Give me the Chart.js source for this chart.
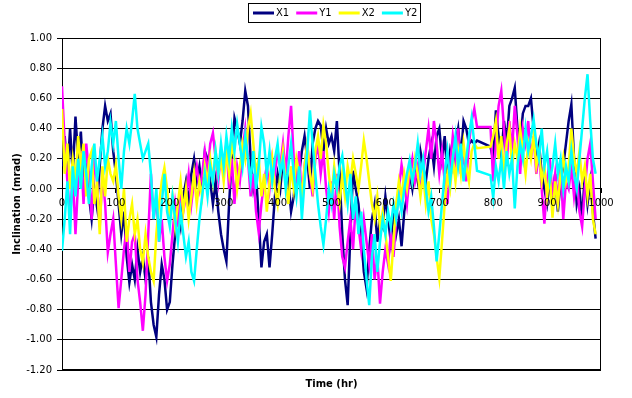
<!DOCTYPE html>
<html>
<head>
<meta charset="utf-8">
<script src="https://cdn.jsdelivr.net/npm/chart.js@4.4.1/dist/chart.umd.min.js"></script>
<style>
html,body{margin:0;padding:0;background:#fff;}
#wrap{width:632px;height:398px;}
</style>
</head>
<body>
<div id="wrap"><canvas id="c" width="632" height="398"></canvas></div>
<script>
// Time in hours
const hours = [
  0,5,10,15,20,25,30,35,40,45,50,55,60,65,70,75,80,85,90,95,
  100,105,110,115,120,125,130,135,140,145,150,155,160,165,170,175,180,185,190,195,
  200,205,210,215,220,225,230,235,240,245,250,255,260,265,270,275,280,285,290,295,
  300,305,310,315,320,325,330,335,340,345,350,355,360,365,370,375,380,385,390,395,
  400,405,410,415,420,425,430,435,440,445,450,455,460,465,470,475,480,485,490,495,
  500,505,510,515,520,525,530,535,540,545,550,555,560,565,570,575,580,585,590,595,
  600,605,610,615,620,625,630,635,640,645,650,655,660,665,670,675,680,685,690,695,
  700,705,710,715,720,725,730,735,740,745,750,755,760,765,770,775,780,785,790,795,
  800,805,810,815,820,825,830,835,840,845,850,855,860,865,870,875,880,885,890,895,
  900,905,910,915,920,925,930,935,940,945,950,955,960,965,970,975,980,985,990
];
const seriesNames = ['X1','Y1','X2','Y2'];

const X1 = [
  0.15,0.35,0.10,0.40,0.10,0.48,0.20,0.38,0.05,0.20,-0.05,-0.20,0.00,-0.12,0.15,0.40,0.55,0.45,0.50,0.25,
  0.10,-0.10,-0.30,-0.15,-0.45,-0.62,-0.50,-0.60,-0.40,-0.55,-0.45,-0.60,-0.45,-0.75,-0.90,-0.98,-0.70,-0.50,-0.60,-0.80,
  -0.75,-0.50,-0.30,-0.15,-0.25,-0.05,0.05,-0.10,0.10,0.20,0.05,0.15,0.00,0.25,0.20,0.05,-0.10,0.05,-0.15,-0.30,
  -0.40,-0.48,-0.10,0.20,0.47,0.40,0.30,0.45,0.65,0.55,0.20,0.00,0.10,-0.20,-0.52,-0.35,-0.30,-0.52,-0.30,-0.05,
  0.10,0.00,0.20,0.15,0.05,-0.15,-0.05,0.15,0.10,0.25,0.35,0.20,0.00,0.30,0.40,0.45,0.42,0.25,0.40,0.30,
  0.35,0.25,0.45,0.10,-0.30,-0.60,-0.77,-0.30,0.12,0.00,-0.10,-0.30,-0.55,-0.66,-0.40,-0.20,-0.10,-0.35,-0.20,-0.25,
  -0.05,-0.20,-0.35,-0.15,-0.30,-0.20,-0.38,-0.15,-0.05,0.10,0.00,0.15,0.05,0.25,0.15,0.05,0.20,0.30,0.15,0.35,
  0.40,0.20,0.35,0.10,0.25,0.15,0.30,0.40,0.20,0.45,0.40,0.30,0.32,0.30,0.32,null,null,null,null,0.28,
  0.19,0.52,0.35,0.20,0.45,0.30,0.55,0.60,0.67,0.40,0.30,0.50,0.55,0.55,0.60,0.40,0.20,0.30,0.10,0.00,
  -0.10,0.05,-0.05,0.10,-0.15,0.05,0.15,0.30,0.45,0.56,0.20,-0.10,0.00,-0.20,0.10,-0.10,0.05,-0.15,-0.33
];
const Y1 = [
  0.68,0.30,0.05,-0.20,0.10,-0.30,0.05,0.25,-0.10,0.30,0.10,-0.20,0.20,0.05,-0.25,0.10,-0.10,-0.42,-0.30,-0.20,
  -0.50,-0.79,-0.60,-0.40,-0.25,-0.55,-0.35,-0.30,-0.60,-0.75,-0.94,-0.70,-0.30,0.10,-0.20,-0.05,-0.35,-0.20,-0.45,-0.61,
  -0.50,-0.30,-0.10,-0.25,0.00,-0.15,-0.05,0.10,-0.10,0.05,0.15,0.00,0.10,0.25,0.10,0.30,0.37,0.20,0.05,0.25,
  0.15,0.30,0.00,0.20,-0.10,0.15,0.05,0.25,0.40,0.20,-0.05,0.10,-0.15,-0.29,-0.10,0.05,0.15,0.00,0.20,0.10,
  0.25,0.15,0.30,0.10,0.35,0.55,0.20,0.05,0.25,-0.10,0.15,0.30,0.10,-0.05,0.20,0.30,0.10,0.25,0.00,-0.15,
  0.05,-0.20,0.10,-0.25,-0.45,-0.52,-0.35,-0.20,-0.40,-0.10,-0.25,-0.40,-0.20,-0.35,-0.50,-0.30,-0.60,-0.45,-0.76,-0.55,
  -0.40,-0.50,-0.30,-0.45,-0.20,0.00,0.16,0.05,-0.10,0.10,0.20,0.05,0.15,0.00,0.10,0.25,0.40,0.20,0.45,0.30,
  0.10,0.25,0.05,-0.10,0.15,0.35,0.20,0.40,0.10,0.25,0.05,0.30,0.45,0.53,0.41,null,null,null,null,0.41,
  0.05,0.30,0.55,0.65,0.40,0.15,0.45,0.25,0.55,0.35,0.10,0.40,0.30,0.45,0.20,0.35,0.10,0.25,0.00,-0.23,
  0.05,0.20,-0.05,0.10,-0.10,0.15,-0.20,0.05,0.00,0.15,-0.05,0.10,-0.15,-0.25,0.00,0.20,0.30,0.05,-0.20
];
const X2 = [
  0.53,0.10,0.30,0.00,0.20,0.05,0.35,0.15,0.30,-0.05,0.20,0.25,-0.10,0.05,-0.30,0.15,-0.05,0.20,0.10,0.05,
  0.16,-0.05,-0.20,0.00,-0.35,-0.20,-0.10,-0.30,-0.20,-0.40,-0.49,-0.30,-0.45,-0.55,-0.61,-0.30,-0.10,0.05,0.14,0.00,
  -0.20,-0.05,-0.25,-0.10,0.05,-0.15,0.00,-0.20,-0.05,0.10,-0.10,0.05,-0.05,0.15,0.05,0.20,0.05,0.25,0.10,0.20,
  0.05,0.25,0.10,0.30,0.20,0.00,0.15,0.30,0.20,0.40,0.50,0.30,0.10,0.20,-0.05,0.10,-0.15,0.05,0.20,0.00,
  -0.10,0.10,0.25,0.05,-0.10,0.15,0.00,0.20,0.10,-0.05,0.15,0.30,0.10,0.00,0.25,0.35,0.20,0.42,0.30,0.10,
  -0.05,0.15,0.00,-0.10,0.10,-0.05,0.15,0.05,0.20,0.10,0.00,0.15,0.32,0.20,0.05,-0.10,-0.20,-0.05,-0.25,-0.15,
  -0.30,-0.45,-0.61,-0.35,-0.10,0.05,-0.05,0.10,0.00,0.15,0.05,0.20,0.10,-0.05,0.10,-0.10,0.05,-0.20,-0.30,-0.45,
  -0.59,-0.35,-0.10,0.10,0.00,0.20,0.05,0.25,0.10,0.30,0.15,0.05,0.25,0.30,0.27,null,null,null,null,0.28,
  0.35,0.45,0.20,0.35,0.10,0.30,0.40,0.15,0.30,0.20,0.40,0.25,0.10,0.30,0.20,0.35,0.15,0.25,0.05,0.15,
  -0.05,0.10,-0.19,0.05,-0.10,0.10,0.21,0.05,0.15,0.40,0.20,0.10,0.25,0.05,0.15,-0.05,0.10,-0.20,-0.30
];
const Y2 = [
  -0.41,-0.20,0.05,-0.30,0.15,-0.05,0.20,0.00,0.25,0.10,-0.10,0.15,0.30,0.05,0.20,0.35,0.15,0.25,0.44,0.30,
  0.45,0.20,0.00,0.25,0.40,0.30,0.45,0.63,0.40,0.30,0.20,0.25,0.30,0.10,-0.20,0.00,-0.35,-0.10,0.10,-0.15,
  -0.25,-0.05,-0.20,-0.35,-0.15,-0.30,-0.45,-0.35,-0.55,-0.61,-0.40,-0.20,-0.05,0.10,-0.05,0.15,0.05,0.25,0.10,0.30,
  0.15,0.35,0.20,0.40,0.25,0.43,0.30,0.15,0.35,0.20,0.05,0.25,0.00,0.15,0.41,0.30,0.10,0.25,0.05,0.20,
  0.30,0.10,0.20,0.00,0.15,0.30,0.10,-0.05,0.15,-0.20,0.05,0.25,0.52,0.30,0.10,-0.10,-0.25,-0.37,-0.20,0.00,
  -0.10,0.10,0.00,0.15,0.22,0.05,-0.10,0.10,-0.20,-0.05,-0.30,-0.15,-0.40,-0.60,-0.77,-0.45,-0.30,-0.55,-0.35,-0.20,
  -0.30,-0.15,-0.25,-0.10,-0.20,-0.05,-0.15,0.00,0.10,0.19,0.05,0.15,0.30,0.10,0.20,0.00,-0.15,-0.05,-0.25,-0.48,
  -0.30,-0.10,0.10,0.25,0.05,0.20,0.35,0.15,0.30,0.05,0.20,0.35,0.47,0.30,0.12,null,null,null,null,0.09,
  -0.06,0.15,0.05,0.20,0.00,0.25,0.10,0.20,-0.13,0.15,0.30,0.20,0.40,0.25,0.35,0.46,0.30,0.20,0.40,0.15,
  0.25,0.05,0.15,0.30,0.10,0.20,0.00,0.15,0.05,0.25,0.10,0.00,0.20,0.40,0.60,0.76,0.45,0.20,0.10
];
const yTicks = ['-1.20','-1.00','-0.80','-0.60','-0.40','-0.20','0.00','0.20','0.40','0.60','0.80','1.00'];
const xTicks = ['0','100','200','300','400','500','600','700','800','900','1000'];

const colors = ['#000080','#FF00FF','#FFFF00','#00FFFF'];
const values = [X1, Y1, X2, Y2];

const datasets = seriesNames.map((name, k) => ({
  label: name,
  data: hours.map((h, i) => ({x: h, y: values[k][i]})),
  borderColor: colors[k],
  backgroundColor: colors[k],
  borderWidth: 2.5,
  pointRadius: 0,
  tension: 0,
  spanGaps: true,
  order: 4 - k
}));

const framePlugin = {
  id: 'frame',
  beforeDatasetsDraw(chart) {
    const a = chart.chartArea, ctx = chart.ctx;
    ctx.save();
    ctx.strokeStyle = '#000';
    ctx.lineWidth = 1;
    ctx.strokeRect(Math.round(a.left) + 0.5, Math.round(a.top) + 0.5, Math.round(a.right - a.left) - 1, Math.round(a.bottom - a.top) - 1);
    ctx.restore();
  }
};

const legendPlugin = {
  id: 'boxLegend',
  afterDraw(chart) {
    const ctx = chart.ctx;
    ctx.save();
    ctx.font = '10px "DejaVu Sans", Verdana, sans-serif';
    ctx.textBaseline = 'middle';
    ctx.strokeStyle = '#000';
    ctx.lineWidth = 1;
    ctx.strokeRect(248.5, 3.5, 172, 19);
    let x = 253;
    const y = 13;
    chart.data.datasets.forEach(ds => {
      ctx.strokeStyle = ds.borderColor;
      ctx.lineWidth = 3;
      ctx.beginPath();
      ctx.moveTo(x, y);
      ctx.lineTo(x + 21, y);
      ctx.stroke();
      ctx.fillStyle = '#000';
      ctx.textAlign = 'left';
      ctx.fillText(ds.label, x + 23, y + 0.5);
      x += 23 + ctx.measureText(ds.label).width + 7;
    });
    ctx.restore();
  }
};

new Chart(document.getElementById('c'), {
  type: 'line',
  data: { datasets },
  options: {
    responsive: false,
    animation: false,
    devicePixelRatio: 1,
    layout: { padding: { top: 38, right: 31, left: 0, bottom: 0 } },
    plugins: { legend: { display: false }, tooltip: { enabled: false } },
    font: { family: '"DejaVu Sans", Verdana, sans-serif' },
    scales: {
      x: {
        type: 'linear',
        min: 0, max: 1000,
        position: { y: 0 },
        grid: { drawOnChartArea: false, drawTicks: true, tickLength: 4, color: '#000' },
        border: { display: true, color: '#000', width: 1 },
        ticks: {
          stepSize: 100,
          padding: 4,
          color: '#000',
          maxRotation: 0,
          autoSkip: false,
          z: 1,
          font: { family: '"DejaVu Sans", Verdana, sans-serif', size: 10 },
          callback: (v) => xTicks[Math.round(v / 100)]
        }
      },
      xt: {
        type: 'linear',
        min: 0, max: 1000,
        position: 'bottom',
        grid: { display: false },
        border: { display: false },
        ticks: { display: false },
        title: {
          display: true,
          text: 'Time (hr)',
          color: '#000',
          font: { family: '"DejaVu Sans", Verdana, sans-serif', size: 10, weight: 'bold' },
          padding: { top: 0, bottom: 8 }
        }
      },
      y: {
        type: 'linear',
        min: -1.2, max: 1.0,
        grid: { color: '#000', lineWidth: 1, drawTicks: true, tickLength: 5 },
        border: { display: true, color: '#000', width: 1 },
        afterFit: (scale) => { scale.width = 62; },
        ticks: {
          stepSize: 0.2,
          padding: 5,
          color: '#000',
          font: { family: '"DejaVu Sans", Verdana, sans-serif', size: 10 },
          callback: (v) => yTicks[Math.round((v + 1.2) / 0.2)]
        },
        title: {
          display: true,
          text: 'Inclination (mrad)',
          color: '#000',
          font: { family: '"DejaVu Sans", Verdana, sans-serif', size: 10, weight: 'bold' },
          padding: { top: 11, bottom: 0 }
        }
      }
    }
  },
  plugins: [framePlugin, legendPlugin]
});
</script>
</body>
</html>
